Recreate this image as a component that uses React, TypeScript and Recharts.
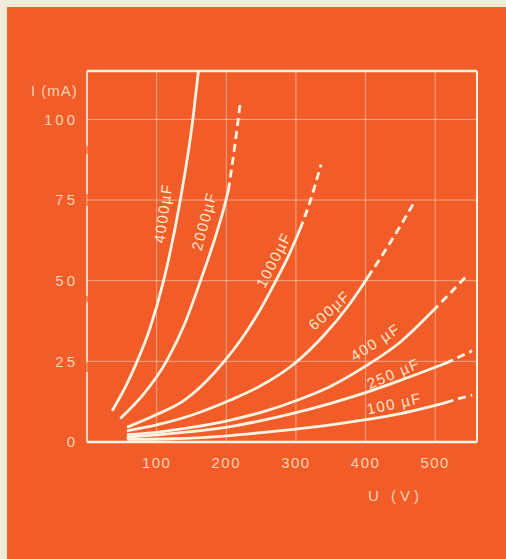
import { LineChart, Line, XAxis, YAxis, CartesianGrid, ReferenceLine, ReferenceDot } from 'recharts'

// U (V) / I (mA)
const voltTicks = [100, 200, 300, 400, 500]
const currentTicks = [0, 25, 50, 75, 100]

const u4000 = [37, 55, 72, 90, 110, 134, 152, 160]
const i4000 = [10, 17, 25, 35, 50, 75, 100, 115]

const u2000 = [49, 80, 114, 140, 163, 185, 196, 203]
const i2000 = [7.5, 14.5, 25, 36.5, 50, 64, 72, 78]
const u2000Dash = [203, 212, 220]
const i2000Dash = [78, 91.5, 105]

const u1000 = [59, 100, 140, 172, 197, 222, 250, 270, 290, 306]
const i1000 = [4.7, 8.5, 13, 19, 25, 32, 41.5, 49.5, 58, 66]
const u1000Dash = [306, 321, 336]
const i1000Dash = [66, 75, 86]

const u600 = [59, 100, 150, 206, 250, 299, 340, 378, 403]
const i600 = [3.5, 5.3, 8.3, 13, 17.5, 24.5, 33, 43, 51]
const u600Dash = [403, 436, 469]
const i600Dash = [51, 62, 74]

const u400 = [59, 100, 150, 206, 250, 300, 350, 400, 450, 496]
const i400 = [2.3, 3, 4.5, 6.8, 9.2, 12.8, 17.3, 23.5, 31, 40.5]
const u400Dash = [496, 520, 544]
const i400Dash = [40.5, 45.8, 51.2]

const u250 = [59, 100, 150, 206, 250, 300, 350, 400, 450, 515]
const i250 = [1.5, 2.2, 3.2, 4.8, 6.6, 9.1, 12, 15.3, 19.1, 24.4]
const u250Dash = [515, 535, 553]
const i250Dash = [24.4, 26.4, 28.3]

const u100 = [59, 120, 206, 250, 300, 350, 400, 450, 515]
const i100 = [0.8, 1, 2, 2.9, 4, 5.3, 6.9, 8.8, 12.2]
const u100Dash = [515, 535, 553]
const i100Dash = [12.2, 13.5, 14.5]

// curve captions
const capText = ['4000µF', '2000µF', '1000µF', '600µF', '400 µF', '250 µF', '100 µF']
const capU = [109, 168, 268, 348, 414, 440, 441]
const capI = [70.9, 68.5, 56.5, 40.9, 31, 21.3, 12]
const capAngle = [-82, -75, -63, -42, -33, -23, -12]

const pts = (u: number[], i: number[]) => u.map((v, k) => ({ u: v, i: i[k] }))

const solid = [
  pts(u4000, i4000),
  pts(u2000, i2000),
  pts(u1000, i1000),
  pts(u600, i600),
  pts(u400, i400),
  pts(u250, i250),
  pts(u100, i100),
]
const dashed = [
  pts(u2000Dash, i2000Dash),
  pts(u1000Dash, i1000Dash),
  pts(u600Dash, i600Dash),
  pts(u400Dash, i400Dash),
  pts(u250Dash, i250Dash),
  pts(u100Dash, i100Dash),
]

const BG = '#f25c28'
const CURVE = '#fff4e2'
const INK = '#f9d3b1'
const FONT = '"Liberation Sans", "DejaVu Sans", sans-serif'

const Caption = (text: string, angle: number) => (p: any) => (
  <text
    x={p.cx}
    y={p.cy}
    transform={`rotate(${angle} ${p.cx} ${p.cy})`}
    textAnchor="middle"
    dominantBaseline="central"
    fill="#fde6cc"
    fontFamily={FONT}
    fontSize={15}
    letterSpacing={1.5}
  >
    {text}
  </text>
)

export default function App() {
  return (
    <div style={{ position: 'fixed', left: 0, top: 0, width: 506, height: 559, background: '#f1ead8' }}>
      <div style={{ position: 'absolute', left: 7, top: 7, right: 0, bottom: 0, background: BG }} />
      <div
        style={{
          position: 'absolute', left: 31, top: 83, color: INK, fontFamily: FONT,
          fontSize: 15, lineHeight: 1, letterSpacing: 1,
        }}
      >
        I (mA)
      </div>
      <div
        style={{
          position: 'absolute', left: 368, top: 488, color: INK, fontFamily: FONT,
          fontSize: 15, lineHeight: 1, letterSpacing: 4,
        }}
      >
        U (V)
      </div>
      <div style={{ position: 'absolute', left: 0, top: 0 }}>
        <LineChart width={506} height={559} margin={{ top: 71, right: 29, left: 27, bottom: 87 }}>
          <CartesianGrid stroke={CURVE} strokeOpacity={0.5} strokeWidth={1} />
          <XAxis
            dataKey="u"
            type="number"
            domain={[0, 560]}
            ticks={voltTicks}
            allowDataOverflow
            height={30}
            tickLine={false}
            tickMargin={9}
            axisLine={{ stroke: CURVE, strokeWidth: 2.5 }}
            tick={{ fill: INK, fontSize: 15, fontFamily: FONT, letterSpacing: 1.5 }}
          />
          <YAxis
            dataKey="i"
            type="number"
            domain={[0, 115]}
            ticks={currentTicks}
            allowDataOverflow
            width={60}
            tickLine={false}
            tickMargin={3}
            axisLine={{ stroke: CURVE, strokeWidth: 1.5, strokeDasharray: '75 8 40 12 90 6 60 10' }}
            tick={{ fill: INK, fontSize: 15, fontFamily: FONT, letterSpacing: 3 }}
          />
          <ReferenceLine y={115} stroke={CURVE} strokeWidth={2.5} />
          <ReferenceLine x={560} stroke={CURVE} strokeWidth={2} />
          {solid.map((d, k) => (
            <Line
              key={'s' + k}
              data={d}
              dataKey="i"
              type="monotoneX"
              stroke={CURVE}
              strokeWidth={2.8}
              strokeLinecap="round"
              dot={false}
              activeDot={false}
              isAnimationActive={false}
            />
          ))}
          {dashed.map((d, k) => (
            <Line
              key={'d' + k}
              data={d}
              dataKey="i"
              type="monotoneX"
              stroke={CURVE}
              strokeWidth={2.8}
              strokeDasharray="8 5"
              dot={false}
              activeDot={false}
              isAnimationActive={false}
            />
          ))}
          {capText.map((t, k) => (
            <ReferenceDot key={'c' + k} x={capU[k]} y={capI[k]} r={0} shape={Caption(t, capAngle[k])} />
          ))}
        </LineChart>
      </div>
    </div>
  )
}
